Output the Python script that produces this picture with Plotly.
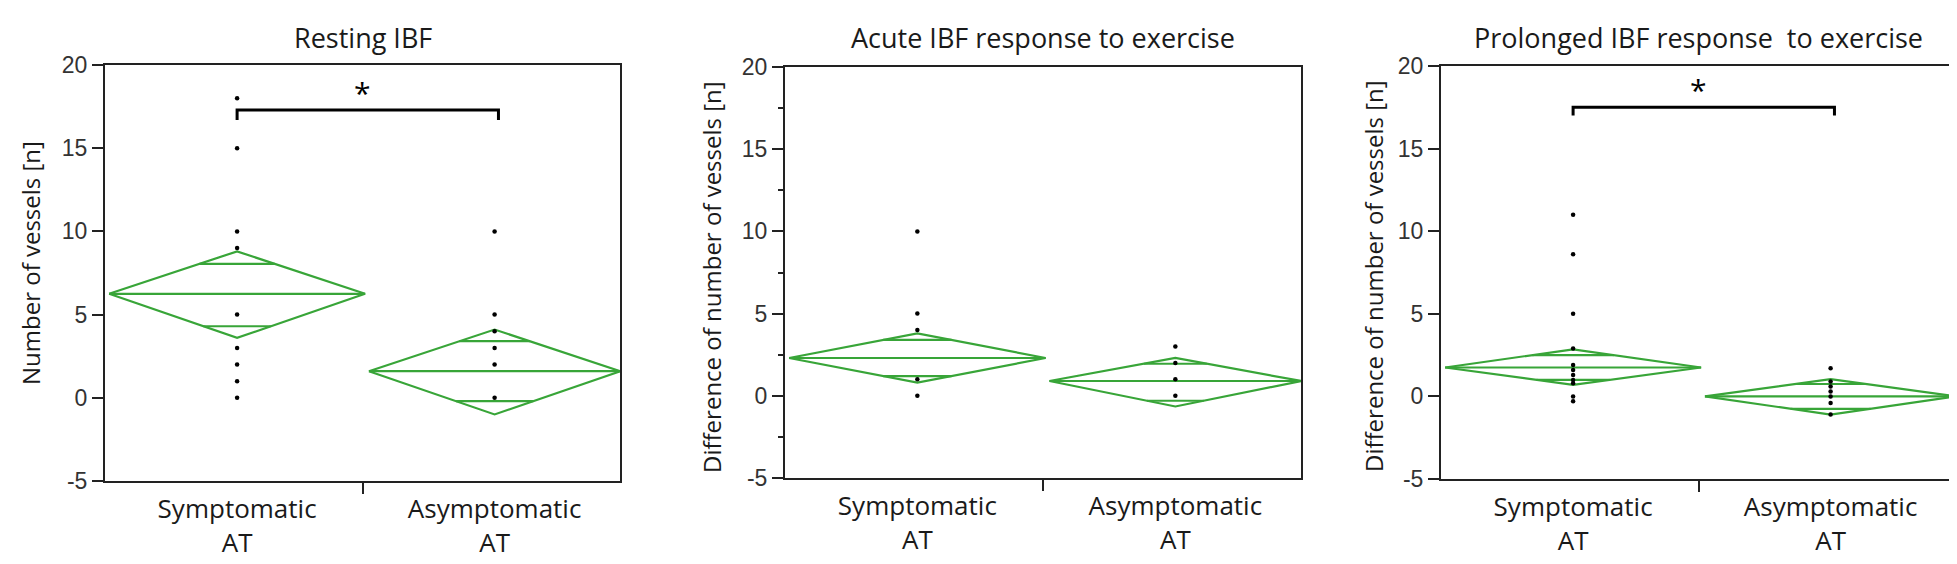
import plotly.graph_objects as go

W, H = 1957, 564

groups = ["Symptomatic<br>AT", "Asymptomatic<br>AT"]
titles = ["Resting IBF",
          "Acute IBF response to exercise",
          "Prolonged IBF response\u00a0 to exercise"]
y_titles = ["Number of vessels [n]",
            "Difference of number of vessels [n]",
            "Difference of number of vessels [n]"]
y_ticks = [-5, 0, 5, 10, 15, 20]
y_ticktext = ["-5", "0", "5", "10", "15", "20"]

# means diamonds, one row per panel: [symptomatic, asymptomatic]
means = [[6.25, 1.6], [2.3, 0.9], [1.75, 0.0]]
ci_upper = [[8.8, 4.1], [3.8, 2.3], [2.85, 1.05]]
ci_lower = [[3.6, -1.0], [0.8, -0.65], [0.7, -1.1]]
overlap_upper = [[8.05, 3.4], [3.4, 1.95], [2.5, 0.75]]
overlap_lower = [[4.3, -0.2], [1.2, -0.3], [1.0, -0.75]]

# individual observations
points_sym = [[18, 15, 10, 9, 5, 3, 2, 1, 0],
              [10, 5, 4, 1, 0],
              [11, 8.6, 5, 2.9, 1.9, 1.6, 1.3, 1.0, 0.8, 0, -0.3]]
points_asym = [[10, 5, 4, 3, 2, 0],
               [3, 2, 1, 0],
               [1.7, 0.9, 0.6, 0.3, 0, -0.4, -1.1]]

# significance brackets (panel index, bar height, leg end, star height)
sig_panels = [0, 2]
sig_bar = [17.3, 17.5]
sig_leg = [16.7, 17.0]
sig_star = [18.35, 18.6]

centers = [0.513, 1.513]
half_w = [0.497, 0.488]
GREEN = "#38a538"

# plot areas in pixels
px_x = [(97, 612), (777, 1293), (1433, 1948)]
px_y = [(57, 473), (59, 470), (58, 471)]
ytitle_pos = [(22, 255), (703, 269), (1365, 268)]

fig = go.Figure()

for p in range(3):
    xa = "x" if p == 0 else f"x{p + 1}"
    ya = "y" if p == 0 else f"y{p + 1}"
    dx, dy = [], []
    for g in range(2):
        c, w = centers[g], half_w[g]
        m, up, lo = means[p][g], ci_upper[p][g], ci_lower[p][g]
        dx += [c - w, c, c + w, c, c - w, None, c - w, c + w, None]
        dy += [m, up, m, lo, m, None, m, m, None]
        for ov, edge in [(overlap_upper[p][g], up), (overlap_lower[p][g], lo)]:
            hw = w * (1 - (ov - m) / (edge - m))
            dx += [c - hw, c + hw, None]
            dy += [ov, ov, None]
    fig.add_trace(go.Scatter(x=dx, y=dy, mode="lines", xaxis=xa, yaxis=ya,
                             line=dict(color=GREEN, width=2.2),
                             showlegend=False, hoverinfo="skip"))
    px_pts = [centers[0]] * len(points_sym[p]) + [centers[1]] * len(points_asym[p])
    fig.add_trace(go.Scatter(x=px_pts, y=points_sym[p] + points_asym[p],
                             mode="markers", xaxis=xa, yaxis=ya,
                             marker=dict(color="black", size=4.5),
                             showlegend=False))

for i, p in enumerate(sig_panels):
    xa = "x" if p == 0 else f"x{p + 1}"
    ya = "y" if p == 0 else f"y{p + 1}"
    fig.add_trace(go.Scatter(x=[centers[0], centers[0], centers[1] + 0.015, centers[1] + 0.015],
                             y=[sig_leg[i], sig_bar[i], sig_bar[i], sig_leg[i]],
                             mode="lines", xaxis=xa, yaxis=ya,
                             line=dict(color="black", width=3),
                             showlegend=False, hoverinfo="skip"))
    fig.add_annotation(x=1.0, y=sig_star[i], xref=xa, yref=ya, text="*",
                       showarrow=False, font=dict(size=30, color="black"))

layout = dict(width=W, height=H, margin=dict(l=0, r=0, t=0, b=0),
              paper_bgcolor="white", plot_bgcolor="white",
              font=dict(family="Open Sans", color="#1a1a1a"))

for p in range(3):
    sx = "" if p == 0 else str(p + 1)
    x0, x1 = px_x[p]
    y0, y1 = px_y[p]
    layout["xaxis" + sx] = dict(
        domain=[x0 / W, x1 / W], range=[0, 2], anchor="y" + sx,
        tickvals=centers, ticktext=groups, ticks="",
        tickfont=dict(size=26, color="#1a1a1a", family="Open Sans"),
        ticklabelstandoff=4,
        minor=dict(tickvals=[1], ticks="outside", ticklen=11, tickwidth=2, tickcolor="#222"),
        showline=True, linecolor="#222", linewidth=2, mirror=True,
        showgrid=False, zeroline=False, fixedrange=True, automargin=False)
    ax = dict(
        domain=[1 - y1 / H, 1 - y0 / H], range=[-5, 20], anchor="x" + sx,
        tickvals=y_ticks, ticktext=y_ticktext, ticks="outside", ticklen=11,
        tickwidth=2, tickcolor="#222",
        tickfont=dict(size=23, color="#333333", family="Liberation Sans, Arial"),
        showline=True, linecolor="#222", linewidth=2, mirror=True,
        showgrid=False, zeroline=False, fixedrange=True, automargin=False)
    if p == 1:
        ax["minor"] = dict(tickvals=[-2.5, 2.5, 7.5, 12.5, 17.5], ticks="outside",
                           ticklen=5, tickwidth=2, tickcolor="#222")
    layout["yaxis" + sx] = ax

fig.update_layout(**layout)

for p in range(3):
    x0, x1 = px_x[p]
    fig.add_annotation(x=(x0 + x1) / 2 / W, y=1 - 29 / H, xref="paper", yref="paper",
                       text=titles[p], showarrow=False, xanchor="center", yanchor="middle",
                       font=dict(size=27, color="#1a1a1a"))
    tx, ty = ytitle_pos[p]
    fig.add_annotation(x=tx / W, y=1 - ty / H, xref="paper", yref="paper",
                       text=y_titles[p], showarrow=False, textangle=-90,
                       xanchor="center", yanchor="middle",
                       font=dict(size=24, color="#1a1a1a"))

fig.write_html("out.html")
